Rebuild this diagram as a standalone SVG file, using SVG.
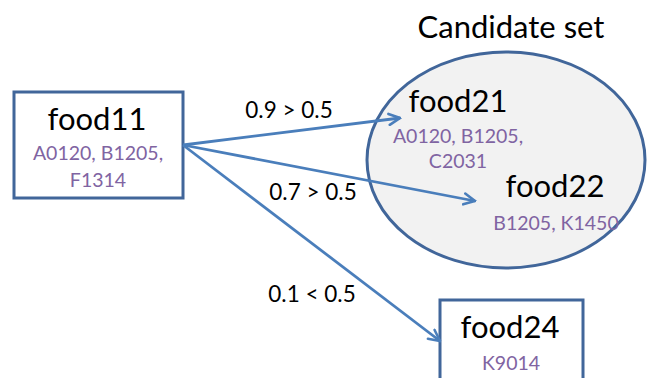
<svg xmlns="http://www.w3.org/2000/svg" width="648" height="378" viewBox="0 0 648 378">
  <style>
    .box { fill: #ffffff; stroke: #41669a; stroke-width: 3; }
    .set { fill: #f2f2f2; stroke: #41669a; stroke-width: 3; }
    .name { font-family: Lato, "Liberation Sans", sans-serif; font-size: 31px; fill: #000000; text-anchor: middle; }
    .codes { font-family: Lato, "Liberation Sans", sans-serif; font-size: 19.5px; fill: #8064a2; text-anchor: middle; }
    .lbl { font-family: Lato, "Liberation Sans", sans-serif; font-size: 22.5px; fill: #000000; text-anchor: middle; }
    .edge { stroke: #4a7ebb; stroke-width: 2.8; fill: none; marker-end: url(#head); }
  </style>
  <defs>
    <marker id="head" viewBox="0 0 14 14" refX="12.5" refY="7" markerWidth="14" markerHeight="14" markerUnits="userSpaceOnUse" orient="auto">
      <path d="M1.5,1.5 L12.5,7 L1.5,12.5" fill="none" stroke="#4a7ebb" stroke-width="2.6" stroke-linecap="round" stroke-linejoin="miter"/>
    </marker>
  </defs>

  <g id="candidate-set">
    <ellipse class="set" cx="506" cy="160" rx="139" ry="108"/>
    <text class="name" x="511" y="38">Candidate set</text>
  </g>

  <g id="food11">
    <rect class="box" x="14" y="92" width="169" height="106"/>
    <text class="name" x="97" y="130">food11</text>
    <text class="codes" x="98" y="160">A0120, B1205,</text>
    <text class="codes" x="98" y="187">F1314</text>
  </g>

  <g id="food21">
    <text class="name" x="458" y="112">food21</text>
    <text class="codes" x="458" y="143">A0120, B1205,</text>
    <text class="codes" x="458" y="168">C2031</text>
  </g>

  <g id="food22">
    <text class="name" x="555" y="197">food22</text>
    <text class="codes" x="556" y="230">B1205, K1450</text>
  </g>

  <g id="food24">
    <rect class="box" x="440" y="300" width="143" height="90"/>
    <text class="name" x="510" y="338">food24</text>
    <text class="codes" x="511" y="370">K9014</text>
  </g>

  <g id="connectors">
    <line class="edge" x1="183" y1="145" x2="400" y2="118"/>
    <line class="edge" x1="183" y1="145" x2="475" y2="201"/>
    <line class="edge" x1="183" y1="145" x2="440" y2="341"/>
    <text class="lbl" x="289" y="118">0.9 &gt; 0.5</text>
    <text class="lbl" x="313" y="200">0.7 &gt; 0.5</text>
    <text class="lbl" x="312" y="302">0.1 &lt; 0.5</text>
  </g>
</svg>
